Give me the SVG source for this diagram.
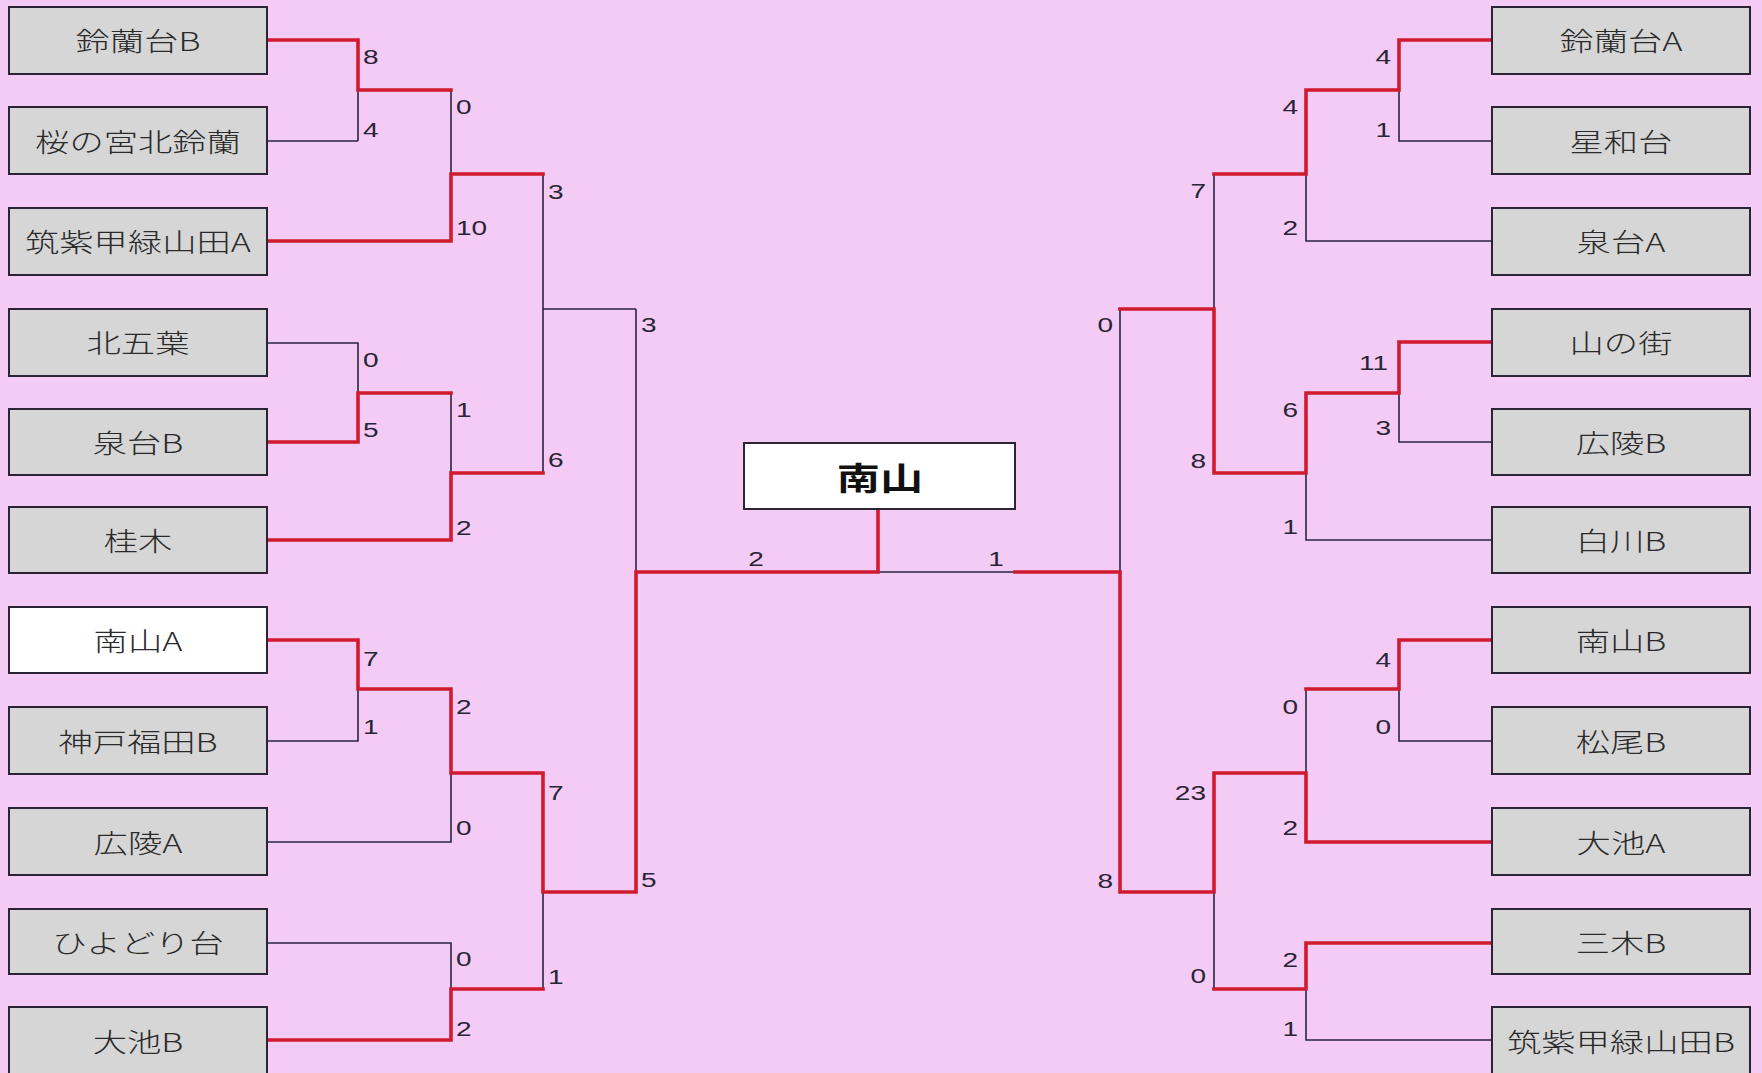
<svg xmlns="http://www.w3.org/2000/svg" width="1762" height="1073" viewBox="0 0 1762 1073">
<style>
.box{fill:#d6d6d6;stroke:#2a2436;stroke-width:2}
.win{fill:#ffffff}
.name{font-family:"Noto Sans CJK JP","Noto Sans CJK SC",sans-serif;font-size:26px;font-weight:300;fill:#2a2a2a;text-anchor:middle;dominant-baseline:central;transform-box:fill-box;transform-origin:center;transform:scaleX(1.32)}
.champ{font-size:32px;font-weight:bold;fill:#111;transform:scaleX(1.35)}
.num{font-family:"Liberation Sans",Arial,sans-serif;font-size:20px;fill:#2a2436;dominant-baseline:central;transform-box:fill-box;transform:scaleX(1.4)}
.nl{text-anchor:start;transform-origin:left center}
.nr{text-anchor:end;transform-origin:right center}
.nc{text-anchor:middle;transform-origin:center}
.k{fill:none;stroke:#2b2540;stroke-width:1.6}
.r{fill:none;stroke:#cf1a2f;stroke-width:3.6;stroke-linejoin:miter;stroke-linecap:square}
</style>
<rect x="0" y="0" width="1762" height="1073" fill="#f3cbf5"/>

<g id="connectors">
<g id="lost">
<path class="k" d="M267 141H358M358 90V141M451 90V174M543 174V473M543 309H636M636 309V572M267 343H358V393M451 393V473M267 741H358V689M267 842H451V773M543 892V989M267 943H451V989"/>
<path class="k" d="M878 572H1015"/>
<path class="k" d="M1492 141H1399V90M1492 241H1306V174M1214 174V309M1120 309V572M1492 442H1399V393M1492 540H1306V473M1492 741H1399V689M1306 689V773M1214 892V989M1492 1040H1306V989"/>
</g>
<g id="won">
<path class="r" d="M267 40H358V90H451M267 241H451V174H543M267 442H358V393H451M267 540H451V473H543M267 640H358V689H451V773H543V892H636V572H878V509M267 1040H451V989H543"/>
<path class="r" d="M1015 572H1120V892H1214V773H1306V842H1492M1492 40H1399V90H1306V174H1214M1120 309H1214V473H1306V393H1399V342H1492M1492 640H1399V689H1306M1492 943H1306V989H1214"/>
</g>
<g id="scores">
<text class="num nl" x="363" y="57">8</text>
<text class="num nl" x="363" y="130">4</text>
<text class="num nl" x="363" y="360">0</text>
<text class="num nl" x="363" y="430">5</text>
<text class="num nl" x="363" y="659">7</text>
<text class="num nl" x="363" y="727">1</text>
<text class="num nl" x="456" y="107">0</text>
<text class="num nl" x="456" y="228">10</text>
<text class="num nl" x="456" y="410">1</text>
<text class="num nl" x="456" y="528">2</text>
<text class="num nl" x="456" y="707">2</text>
<text class="num nl" x="456" y="828">0</text>
<text class="num nl" x="456" y="959">0</text>
<text class="num nl" x="456" y="1029">2</text>
<text class="num nl" x="548" y="192">3</text>
<text class="num nl" x="548" y="460">6</text>
<text class="num nl" x="548" y="793">7</text>
<text class="num nl" x="548" y="977">1</text>
<text class="num nl" x="641" y="325">3</text>
<text class="num nl" x="641" y="880">5</text>
<text class="num nc" x="756" y="559">2</text>
<text class="num nc" x="996" y="559">1</text>
<text class="num nr" x="1391" y="57">4</text>
<text class="num nr" x="1391" y="130">1</text>
<text class="num nr" x="1388" y="363">11</text>
<text class="num nr" x="1391" y="428">3</text>
<text class="num nr" x="1391" y="660">4</text>
<text class="num nr" x="1391" y="727">0</text>
<text class="num nr" x="1298" y="107">4</text>
<text class="num nr" x="1298" y="228">2</text>
<text class="num nr" x="1298" y="410">6</text>
<text class="num nr" x="1298" y="527">1</text>
<text class="num nr" x="1298" y="707">0</text>
<text class="num nr" x="1298" y="828">2</text>
<text class="num nr" x="1298" y="960">2</text>
<text class="num nr" x="1298" y="1029">1</text>
<text class="num nr" x="1206" y="191">7</text>
<text class="num nr" x="1206" y="461">8</text>
<text class="num nr" x="1206" y="793">23</text>
<text class="num nr" x="1206" y="976">0</text>
<text class="num nr" x="1113" y="325">0</text>
<text class="num nr" x="1113" y="881">8</text>
</g>
</g>

<g id="n-champion"><rect class="box win" x="744" y="443" width="271" height="66"/><text class="name champ" x="880" y="476">南山</text></g>

<g id="n-L1"><rect class="box" x="9" y="7" width="258" height="67"/><text class="name" x="138" y="40">鈴蘭台B</text></g>
<g id="n-L2"><rect class="box" x="9" y="107" width="258" height="67"/><text class="name" x="138" y="141">桜の宮北鈴蘭</text></g>
<g id="n-L3"><rect class="box" x="9" y="208" width="258" height="67"/><text class="name" x="138" y="241">筑紫甲緑山田A</text></g>
<g id="n-L4"><rect class="box" x="9" y="309" width="258" height="67"/><text class="name" x="138" y="342">北五葉</text></g>
<g id="n-L5"><rect class="box" x="9" y="409" width="258" height="66"/><text class="name" x="138" y="442">泉台B</text></g>
<g id="n-L6"><rect class="box" x="9" y="507" width="258" height="66"/><text class="name" x="138" y="540">桂木</text></g>
<g id="n-L7"><rect class="box win" x="9" y="607" width="258" height="66"/><text class="name" x="138" y="640">南山A</text></g>
<g id="n-L8"><rect class="box" x="9" y="707" width="258" height="67"/><text class="name" x="138" y="741">神戸福田B</text></g>
<g id="n-L9"><rect class="box" x="9" y="808" width="258" height="67"/><text class="name" x="138" y="842">広陵A</text></g>
<g id="n-L10"><rect class="box" x="9" y="909" width="258" height="65"/><text class="name" x="138" y="942">ひよどり台</text></g>
<g id="n-L11"><rect class="box" x="9" y="1007" width="258" height="80"/><text class="name" x="138" y="1041">大池B</text></g>

<g id="n-R1"><rect class="box" x="1492" y="7" width="258" height="67"/><text class="name" x="1621" y="40">鈴蘭台A</text></g>
<g id="n-R2"><rect class="box" x="1492" y="107" width="258" height="67"/><text class="name" x="1621" y="141">星和台</text></g>
<g id="n-R3"><rect class="box" x="1492" y="208" width="258" height="67"/><text class="name" x="1621" y="241">泉台A</text></g>
<g id="n-R4"><rect class="box" x="1492" y="309" width="258" height="67"/><text class="name" x="1621" y="342">山の街</text></g>
<g id="n-R5"><rect class="box" x="1492" y="409" width="258" height="66"/><text class="name" x="1621" y="442">広陵B</text></g>
<g id="n-R6"><rect class="box" x="1492" y="507" width="258" height="66"/><text class="name" x="1621" y="540">白川B</text></g>
<g id="n-R7"><rect class="box" x="1492" y="607" width="258" height="66"/><text class="name" x="1621" y="640">南山B</text></g>
<g id="n-R8"><rect class="box" x="1492" y="707" width="258" height="67"/><text class="name" x="1621" y="741">松尾B</text></g>
<g id="n-R9"><rect class="box" x="1492" y="808" width="258" height="67"/><text class="name" x="1621" y="842">大池A</text></g>
<g id="n-R10"><rect class="box" x="1492" y="909" width="258" height="65"/><text class="name" x="1621" y="942">三木B</text></g>
<g id="n-R11"><rect class="box" x="1492" y="1007" width="258" height="80"/><text class="name" x="1621" y="1041">筑紫甲緑山田B</text></g>
</svg>
